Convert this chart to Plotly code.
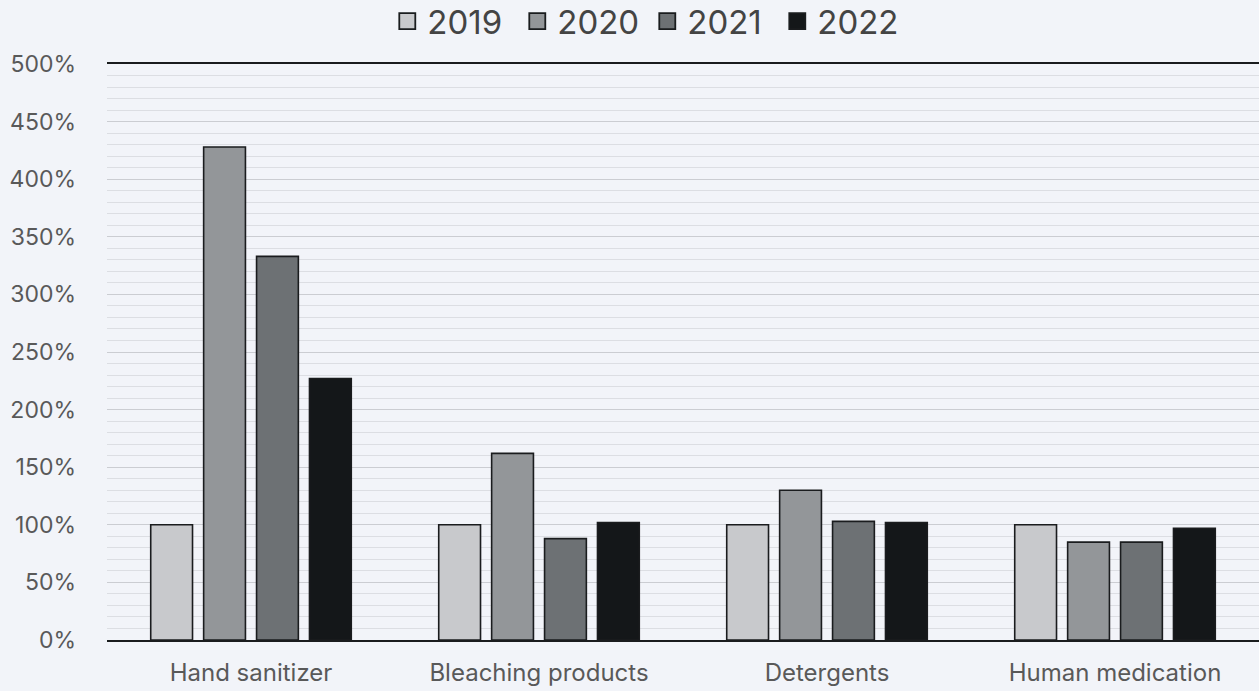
import plotly.graph_objects as go

categories = ["Hand sanitizer", "Bleaching products", "Detergents", "Human medication"]
years = ["2019", "2020", "2021", "2022"]
values_2019 = [100, 100, 100, 100]
values_2020 = [428, 162, 130, 85]
values_2021 = [333, 88, 103, 85]
values_2022 = [227, 102, 102, 97]
series = [values_2019, values_2020, values_2021, values_2022]
colors = ["#c8c9cc", "#939699", "#6d7174", "#141719"]

BG = "#f2f4f9"
TEXT = "#595959"
FONT = "Inter"

fig = go.Figure()
for year, vals, col in zip(years, series, colors):
    fig.add_trace(go.Bar(
        x=categories, y=vals, name=year,
        marker=dict(color=col, line=dict(color="#1a1c1e", width=1.6)),
        showlegend=False,
    ))
    # legend swatch
    fig.add_trace(go.Scatter(
        x=[None], y=[None], mode="markers", name=year,
        marker=dict(symbol="square", size=16, color=col,
                    line=dict(color="#1a1c1e", width=1.8)),
    ))

fig.update_layout(
    width=1259, height=691,
    margin=dict(l=107, r=0, t=64, b=51, autoexpand=False),
    paper_bgcolor=BG, plot_bgcolor=BG,
    barmode="group", bargap=0.265, bargroupgap=0.21,
    font=dict(family=FONT, color=TEXT),
    legend=dict(orientation="h", x=0.469, xanchor="center", y=1.123, yanchor="top",
                font=dict(size=33, color="#444444"),
                entrywidth=85, entrywidthmode="pixels",
                tracegroupgap=0, bgcolor="rgba(0,0,0,0)"),
    xaxis=dict(showline=True, mirror=True, linecolor="#1a1c1e", linewidth=1.5,
               showgrid=False, ticks="", tickfont=dict(size=24, color=TEXT),
               ticklabelstandoff=10),
    yaxis=dict(range=[0, 500], dtick=50, ticksuffix="%", showline=False,
               gridcolor="#cbcdd2", gridwidth=1.3, zeroline=False,
               tickfont=dict(size=23, color=TEXT), ticklabelstandoff=30,
               minor=dict(dtick=10, showgrid=True, gridcolor="#dcdee3", gridwidth=1)),
)

fig.write_html("out.html")
